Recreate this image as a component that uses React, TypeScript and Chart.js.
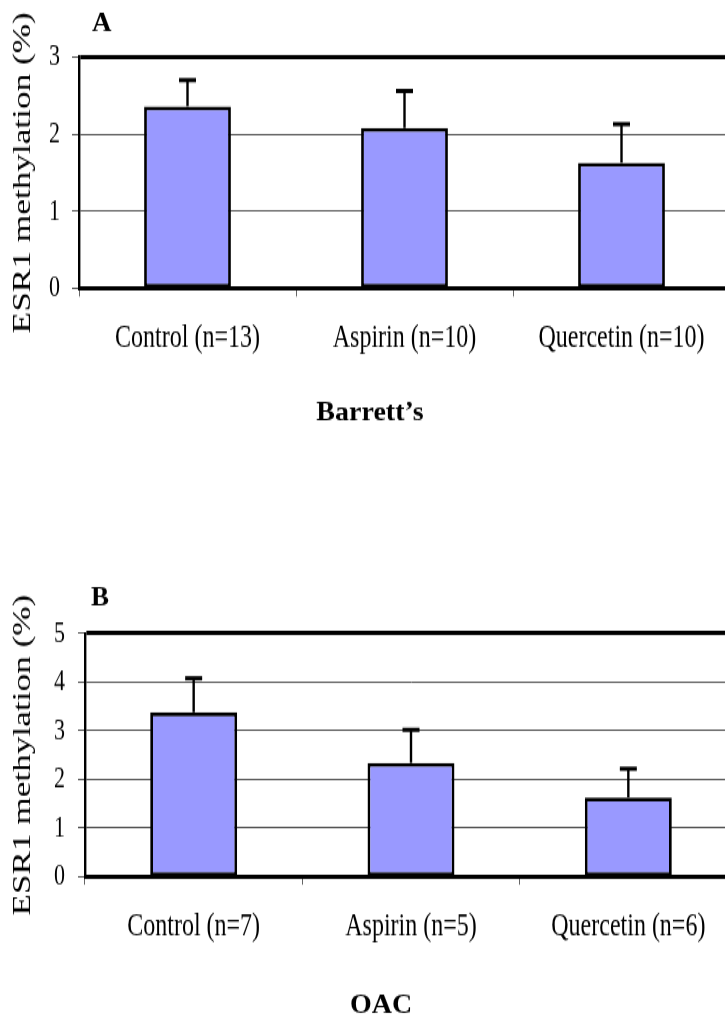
import React, { useEffect, useRef } from "react";
import { Chart, registerables } from "chart.js";

Chart.register(...registerables);

// ---- data ----
const yAxisTitle = "ESR1 methylation (%)";

const categoriesA = ["Control (n=13)", "Aspirin (n=10)", "Quercetin (n=10)"];
const meansA = [2.36, 2.08, 1.63];
const errorsA = [0.34, 0.48, 0.5];
const yMaxA = 3;
const letterA = "A";
const groupA = "Barrett\u2019s";

const categoriesB = ["Control (n=7)", "Aspirin (n=5)", "Quercetin (n=6)"];
const meansB = [3.38, 2.34, 1.63];
const errorsB = [0.7, 0.68, 0.59];
const yMaxB = 5;
const letterB = "B";
const groupB = "OAC";

// ---- styling / layout ----
const K = 1.41; // vertical stretch of the original figure
const FONT = '"Liberation Serif", "Times New Roman", Times, serif';
const BAR_FILL = "#9999FF";

const errorBarPlugin = {
  id: "errorBars",
  afterDatasetsDraw(chart: any, _args: any, opts: any) {
    const { ctx } = chart;
    const meta = chart.getDatasetMeta(0);
    const y = chart.scales.y;
    const data = chart.data.datasets[0].data as number[];
    ctx.save();
    ctx.strokeStyle = "#000";
    meta.data.forEach((bar: any, i: number) => {
      const top = y.getPixelForValue(data[i] + opts.errors[i]);
      ctx.lineWidth = 2.4;
      ctx.beginPath();
      ctx.moveTo(bar.x, bar.y);
      ctx.lineTo(bar.x, top);
      ctx.stroke();
      ctx.lineWidth = 3;
      ctx.beginPath();
      ctx.moveTo(bar.x - 8.5, top);
      ctx.lineTo(bar.x + 8.5, top);
      ctx.stroke();
    });
    ctx.restore();
  },
};

const panelTextPlugin = {
  id: "panelText",
  afterDraw(chart: any, _args: any, opts: any) {
    const { ctx } = chart;
    ctx.save();
    ctx.scale(1, 1 / K);
    ctx.fillStyle = "#000";
    ctx.textBaseline = "alphabetic";
    ctx.font = `bold 27px ${FONT}`;
    ctx.textAlign = "left";
    ctx.fillText(opts.letter, opts.letterX, opts.letterY);
    ctx.font = `bold 28px ${FONT}`;
    ctx.textAlign = "center";
    ctx.fillText(opts.group, opts.groupX, opts.groupY);
    ctx.restore();
  },
};

type PanelProps = {
  labels: string[];
  means: number[];
  errors: number[];
  yMax: number;
  letter: string;
  group: string;
  top: number; // page y of canvas top
  width: number;
  height: number; // unstretched canvas height
  plotLeft: number;
  plotTop: number; // unstretched
  plotBottom: number; // unstretched
  tickPad: number;
  letterX: number;
  letterY: number;
  groupX: number;
  groupY: number;
};

function Panel(p: PanelProps) {
  const ref = useRef<HTMLCanvasElement>(null);
  useEffect(() => {
    if (!ref.current) return;
    const chart = new Chart(ref.current, {
      type: "bar",
      data: {
        labels: p.labels,
        datasets: [
          {
            data: p.means,
            backgroundColor: BAR_FILL,
            borderColor: "#000",
            borderWidth: 2.8,
            borderSkipped: false,
            barPercentage: 0.4,
            categoryPercentage: 1,
          },
        ],
      },
      options: {
        responsive: false,
        animation: false,
        events: [],
        layout: { padding: { top: p.plotTop, left: 0, right: 10, bottom: 0 } },
        plugins: {
          legend: { display: false },
          tooltip: { enabled: false },
          errorBars: { errors: p.errors },
          panelText: {
            letter: p.letter,
            letterX: p.letterX,
            letterY: p.letterY,
            group: p.group,
            groupX: p.groupX,
            groupY: p.groupY,
          },
        } as any,
        scales: {
          x: {
            grid: {
              offset: true,
              drawOnChartArea: false,
              drawTicks: true,
              tickLength: 5.7,
              color: "#666",
              lineWidth: 1,
            },
            border: { display: true, color: "#000", width: 3 },
            ticks: {
              color: "#000",
              font: { family: FONT, size: 24 },
              padding: 15.4,
              maxRotation: 0,
              autoSkip: false,
            },
            afterFit: (s: any) => {
              s.height = p.height - p.plotBottom;
            },
          },
          y: {
            min: 0,
            max: p.yMax,
            ticks: {
              stepSize: 1,
              color: "#000",
              font: { family: FONT, size: 22 },
              padding: p.tickPad,
            },
            grid: {
              color: (c: any) =>
                c.tick && (c.tick.value === p.yMax || c.tick.value === 0) ? "#000" : "#555",
              lineWidth: (c: any) => (c.tick && c.tick.value === p.yMax ? 3 : 1),
              tickLength: 7,
              tickWidth: 1,
              tickColor: "#555",
            },
            border: { display: true, color: "#000", width: 2.4 },
            title: {
              display: true,
              text: yAxisTitle,
              color: "#000",
              font: { family: FONT, size: 25 },
              padding: { top: 8, bottom: 0 },
            },
            afterFit: (s: any) => {
              s.width = p.plotLeft;
            },
          },
        },
      },
      plugins: [errorBarPlugin, panelTextPlugin],
    } as any);
    return () => chart.destroy();
  }, []);
  return (
    <canvas
      ref={ref}
      width={p.width}
      height={p.height}
      style={{
        position: "absolute",
        left: 0,
        top: p.top,
        width: p.width,
        height: p.height,
        transform: `scaleY(${K})`,
        transformOrigin: "0 0",
      }}
    />
  );
}

export default function App() {
  return (
    <div
      style={{
        position: "fixed",
        left: 0,
        top: 0,
        width: 725,
        height: 1019,
        overflow: "hidden",
        background: "#fff",
      }}
    >
      <Panel
        labels={categoriesA}
        means={meansA}
        errors={errorsA}
        yMax={yMaxA}
        letter={letterA}
        group={groupA}
        top={0}
        width={740}
        height={319}
        plotLeft={79}
        plotTop={57 / K}
        plotBottom={288.5 / K}
        tickPad={12}
        letterX={92}
        letterY={31}
        groupX={370}
        groupY={420}
      />
      <Panel
        labels={categoriesB}
        means={meansB}
        errors={errorsB}
        yMax={yMaxB}
        letter={letterB}
        group={groupB}
        top={580}
        width={747}
        height={311}
        plotLeft={85}
        plotTop={(633.5 - 580) / K}
        plotBottom={(876.7 - 580) / K}
        tickPad={13}
        letterX={91}
        letterY={26}
        groupX={381}
        groupY={433}
      />
    </div>
  );
}
